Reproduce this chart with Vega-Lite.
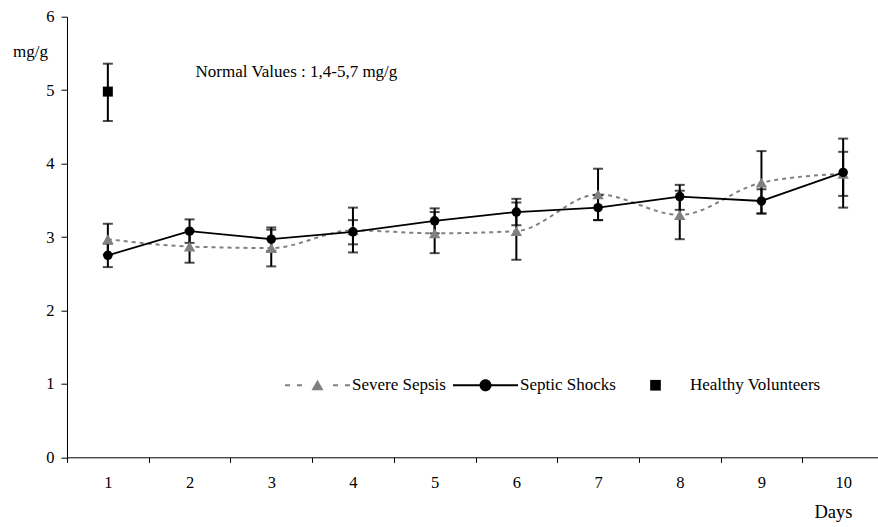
{
  "$schema": "https://vega.github.io/schema/vega-lite/v6.json",
  "width": 817,
  "height": 440.6,
  "autosize": {"type": "none"},
  "padding": {"left": 67, "top": 16.7, "right": -6, "bottom": 69.7},
  "background": "white",
  "config": {
    "view": {"stroke": null},
    "font": "Liberation Serif",
    "axis": {
      "grid": false,
      "domainColor": "black",
      "tickColor": "black",
      "labelColor": "black",
      "titleColor": "black",
      "labelFont": "Liberation Serif",
      "titleFont": "Liberation Serif",
      "labelFontSize": 16.5,
      "titleFontSize": 17,
      "titleFontWeight": "normal"
    },
    "axisY": {
      "tickSize": 6,
      "labelPadding": 7,
      "tickCount": 6,
      "titleAngle": 0,
      "titleX": -37,
      "titleY": 35,
      "titleAlign": "center",
      "titleBaseline": "middle"
    },
    "axisX": {
      "tickBand": "extent",
      "tickSize": 5,
      "labelPadding": 12,
      "labelAngle": 0,
      "titleFontSize": 18.5,
      "titleX": 766,
      "titleY": 54.4,
      "titleAlign": "center",
      "titleBaseline": "middle"
    }
  },
  "datasets": {
    "series": [
      {"series": "Severe Sepsis", "day": 1, "value": 2.97, "lo": 2.76, "hi": 3.18},
      {"series": "Severe Sepsis", "day": 2, "value": 2.87, "lo": 2.65, "hi": 3.09},
      {"series": "Severe Sepsis", "day": 3, "value": 2.85, "lo": 2.60, "hi": 3.10},
      {"series": "Severe Sepsis", "day": 4, "value": 3.09, "lo": 2.79, "hi": 3.40},
      {"series": "Severe Sepsis", "day": 5, "value": 3.05, "lo": 2.78, "hi": 3.34},
      {"series": "Severe Sepsis", "day": 6, "value": 3.08, "lo": 2.69, "hi": 3.47},
      {"series": "Severe Sepsis", "day": 7, "value": 3.58, "lo": 3.23, "hi": 3.93},
      {"series": "Severe Sepsis", "day": 8, "value": 3.30, "lo": 2.97, "hi": 3.63},
      {"series": "Severe Sepsis", "day": 9, "value": 3.74, "lo": 3.32, "hi": 4.17},
      {"series": "Severe Sepsis", "day": 10, "value": 3.86, "lo": 3.56, "hi": 4.16},
      {"series": "Septic Shocks", "day": 1, "value": 2.75, "lo": 2.59, "hi": 2.91},
      {"series": "Septic Shocks", "day": 2, "value": 3.08, "lo": 2.92, "hi": 3.24},
      {"series": "Septic Shocks", "day": 3, "value": 2.97, "lo": 2.81, "hi": 3.13},
      {"series": "Septic Shocks", "day": 4, "value": 3.07, "lo": 2.90, "hi": 3.23},
      {"series": "Septic Shocks", "day": 5, "value": 3.22, "lo": 3.05, "hi": 3.39},
      {"series": "Septic Shocks", "day": 6, "value": 3.34, "lo": 3.16, "hi": 3.52},
      {"series": "Septic Shocks", "day": 7, "value": 3.40, "lo": 3.23, "hi": 3.57},
      {"series": "Septic Shocks", "day": 8, "value": 3.55, "lo": 3.37, "hi": 3.71},
      {"series": "Septic Shocks", "day": 9, "value": 3.49, "lo": 3.32, "hi": 3.65},
      {"series": "Septic Shocks", "day": 10, "value": 3.88, "lo": 3.40, "hi": 4.34},
      {"series": "Healthy Volunteers", "day": 1, "value": 4.98, "lo": 4.58, "hi": 5.36}
    ],
    "note": [
      {"day": 2, "value": 5.25, "label": "Normal Values : 1,4-5,7 mg/g"}
    ]
  },
  "encoding": {
    "x": {
      "field": "day",
      "type": "ordinal",
      "title": "Days",
      "scale": {"type": "band", "domain": [1, 2, 3, 4, 5, 6, 7, 8, 9, 10], "paddingInner": 0, "paddingOuter": 0}
    }
  },
  "layer": [
    {
      "data": {"name": "series"},
      "transform": [{"filter": "datum.series === 'Severe Sepsis'"}],
      "mark": {"type": "line", "color": "#808080", "strokeWidth": 2, "strokeDash": [4, 4], "interpolate": "monotone"},
      "encoding": {
        "y": {"field": "value", "type": "quantitative", "title": "mg/g", "scale": {"domain": [0, 6]}}
      }
    },
    {
      "data": {"name": "series"},
      "transform": [{"filter": "datum.series === 'Septic Shocks'"}],
      "mark": {"type": "line", "color": "black", "strokeWidth": 1.8},
      "encoding": {
        "y": {"field": "value", "type": "quantitative", "title": "mg/g", "scale": {"domain": [0, 6]}}
      }
    },
    {
      "data": {"name": "series"},
      "mark": {"type": "rule", "color": "black", "strokeWidth": 2},
      "encoding": {
        "y": {"field": "lo", "type": "quantitative", "title": "mg/g", "scale": {"domain": [0, 6]}},
        "y2": {"field": "hi"}
      }
    },
    {
      "data": {"name": "series"},
      "transform": [{"fold": ["lo", "hi"], "as": ["bound", "bval"]}],
      "mark": {"type": "tick", "orient": "horizontal", "size": 10, "thickness": 2, "color": "black"},
      "encoding": {
        "y": {"field": "bval", "type": "quantitative", "title": "mg/g", "scale": {"domain": [0, 6]}}
      }
    },
    {
      "data": {"name": "series"},
      "transform": [{"filter": "datum.series === 'Severe Sepsis'"}],
      "mark": {"type": "point", "filled": true, "opacity": 1, "shape": "triangle-up", "size": 130, "color": "#808080"},
      "encoding": {
        "y": {"field": "value", "type": "quantitative", "title": "mg/g", "scale": {"domain": [0, 6]}}
      }
    },
    {
      "data": {"name": "series"},
      "transform": [{"filter": "datum.series === 'Septic Shocks'"}],
      "mark": {"type": "point", "filled": true, "opacity": 1, "shape": "circle", "size": 90, "color": "black"},
      "encoding": {
        "y": {"field": "value", "type": "quantitative", "title": "mg/g", "scale": {"domain": [0, 6]}}
      }
    },
    {
      "data": {"name": "series"},
      "transform": [{"filter": "datum.series === 'Healthy Volunteers'"}],
      "mark": {"type": "point", "filled": true, "opacity": 1, "shape": "square", "size": 100, "color": "black"},
      "encoding": {
        "y": {"field": "value", "type": "quantitative", "title": "mg/g", "scale": {"domain": [0, 6]}}
      }
    },
    {
      "data": {"name": "series"},
      "transform": [{"filter": "datum.day === 1"}],
      "mark": {"type": "point", "filled": true, "opacity": 0, "size": 4225},
      "encoding": {
        "y": {"field": "value", "type": "quantitative", "title": "mg/g", "scale": {"domain": [0, 6]}},
        "color": {
          "field": "series",
          "type": "nominal",
          "scale": {"domain": ["Severe Sepsis", "Septic Shocks", "Healthy Volunteers"], "range": ["#808080", "black", "black"]},
          "legend": {
            "orient": "none",
            "legendX": 218,
            "legendY": 335.8,
            "direction": "horizontal",
            "title": null,
            "symbolSize": 4225,
            "symbolOpacity": 1,
            "symbolStrokeWidth": 0,
            "labelFont": "Liberation Serif",
            "labelFontSize": 17,
            "labelColor": "black",
            "labelOffset": 2,
            "columnPadding": 7
          }
        },
        "shape": {
          "field": "series",
          "type": "nominal",
          "scale": {
            "domain": ["Severe Sepsis", "Septic Shocks", "Healthy Volunteers"],
            "range": [
              "M-1,-0.031H-0.846V0.031H-1Z M-0.631,-0.031H-0.477V0.031H-0.631Z M-0.185,0.15L0,-0.17L0.185,0.15Z M0.477,-0.031H0.631V0.031H0.477Z M0.846,-0.031H1V0.031H0.846Z",
              "M-1,-0.031H1V0.031H-1Z M-0.185,0A0.185,0.185 0 1,1 0.185,0A0.185,0.185 0 1,1 -0.185,0Z",
              "M-0.164,-0.164H0.164V0.164H-0.164Z"
            ]
          },
          "legend": {
            "orient": "none",
            "legendX": 218,
            "legendY": 335.8,
            "direction": "horizontal",
            "title": null,
            "symbolSize": 4225,
            "symbolOpacity": 1,
            "symbolStrokeWidth": 0,
            "labelFont": "Liberation Serif",
            "labelFontSize": 17,
            "labelColor": "black",
            "labelOffset": 2,
            "columnPadding": 7
          }
        }
      }
    },
    {
      "data": {"name": "note"},
      "mark": {"type": "text", "align": "left", "baseline": "middle", "dx": 6, "font": "Liberation Serif", "fontSize": 17, "color": "black"},
      "encoding": {
        "y": {"field": "value", "type": "quantitative", "title": "mg/g", "scale": {"domain": [0, 6]}},
        "text": {"field": "label"}
      }
    }
  ]
}
